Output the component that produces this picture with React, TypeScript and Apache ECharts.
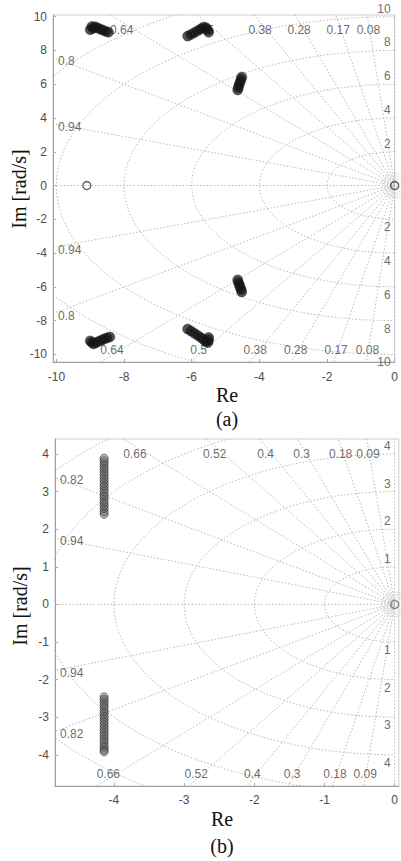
import React, { useEffect, useRef } from "react";
import * as echarts from "echarts";

// ---------- chart (a) ----------
const xTicksA = [-10, -8, -6, -4, -2, 0];
const yTicksA = [-10, -8, -6, -4, -2, 0, 2, 4, 6, 8, 10];
const zetaA = [0.08, 0.17, 0.28, 0.38, 0.5, 0.64, 0.8, 0.94];
const wnA = [2, 4, 6, 8, 10, 12];
const wnLabelsA = [2, 4, 6, 8, 10];
const limitsA = { xmin: -10.1, xmax: 0, ymin: -10.45, ymax: 10.1 };

const polesA_upperLeft: [number, number][] = [
  [-9.0, 9.23], [-8.95, 9.42], [-8.92, 9.3], [-8.85, 9.4], [-8.78, 9.33],
  [-8.7, 9.26], [-8.62, 9.2], [-8.54, 9.13], [-8.46, 9.08],
];
const polesA_upperMid: [number, number][] = [
  [-6.12, 8.85], [-6.02, 8.95], [-5.92, 9.06], [-5.82, 9.17], [-5.73, 9.28],
  [-5.65, 9.38], [-5.58, 9.35], [-5.53, 9.22], [-5.5, 9.08],
];
const polesA_upperRight: [number, number][] = [
  [-4.52, 6.43], [-4.54, 6.28], [-4.57, 6.12], [-4.6, 5.96], [-4.62, 5.81], [-4.64, 5.66],
];
const polesA_lowerRight: [number, number][] = [
  [-4.64, -5.59], [-4.62, -5.74], [-4.59, -5.88], [-4.57, -6.02], [-4.54, -6.16], [-4.52, -6.3],
];
const polesA_lowerMid: [number, number][] = [
  [-6.12, -8.5], [-6.02, -8.62], [-5.92, -8.75], [-5.82, -8.88], [-5.73, -9.0],
  [-5.65, -9.12], [-5.58, -9.25], [-5.52, -9.3], [-5.5, -9.15], [-5.5, -9.0],
];
const polesA_lowerLeft: [number, number][] = [
  [-9.0, -9.2], [-8.95, -9.3], [-8.9, -9.38], [-8.82, -9.3], [-8.74, -9.22],
  [-8.66, -9.15], [-8.58, -9.08], [-8.5, -9.02], [-8.42, -8.97],
];
const zerosA: [number, number][] = [[-9.1, 0], [0, 0]];

// ---------- chart (b) ----------
const xTicksB = [-4, -3, -2, -1, 0];
const yTicksB = [-4, -3, -2, -1, 0, 1, 2, 3, 4];
const zetaB = [0.09, 0.18, 0.3, 0.4, 0.52, 0.66, 0.82, 0.94];
const wnB = [1, 2, 3, 4, 5, 6];
const wnLabelsB = [1, 2, 3, 4];
const limitsB = { xmin: -4.84, xmax: 0.06, ymin: -4.83, ymax: 4.4 };

const polesB_re = -4.14;
const polesB_upperIm = [
  2.4, 2.47, 2.55, 2.62, 2.7, 2.77, 2.85, 2.92, 3.0, 3.07, 3.15,
  3.22, 3.3, 3.37, 3.45, 3.52, 3.6, 3.67, 3.75, 3.82, 3.89,
];
const polesB_lowerIm = [
  -2.46, -2.53, -2.6, -2.68, -2.75, -2.83, -2.9, -2.98, -3.05, -3.13, -3.2,
  -3.28, -3.35, -3.43, -3.5, -3.58, -3.65, -3.73, -3.8, -3.87, -3.92,
];
const zerosB: [number, number][] = [[0, 0]];

const GRID_COLOR = "#b8b8b8";
const LABEL_COLOR = "#444444";
const SANS = "Liberation Sans";
const SERIF = "Liberation Serif";
const GRID_H = 347;

type Lim = { xmin: number; xmax: number; ymin: number; ymax: number };

function lbl(extra: any) {
  return {
    show: true,
    position: "inside",
    verticalAlign: "middle",
    color: LABEL_COLOR,
    textBorderWidth: 0,
    textBorderColor: "transparent",
    fontSize: 12,
    fontFamily: SANS,
    ...extra,
  };
}

function gridSeries(idx: number, zetas: number[], wns: number[], wnLabels: number[], lim: Lim) {
  const series: any[] = [];
  const R = 40;
  const lineBase = {
    type: "line",
    xAxisIndex: idx,
    yAxisIndex: idx,
    showSymbol: false,
    symbol: "none",
    silent: true,
    z: 1,
    lineStyle: { color: GRID_COLOR, width: 1, type: [1.5, 2] },
  };
  wns.forEach((wn) => {
    const pts: number[][] = [];
    for (let i = 0; i <= 120; i++) {
      const t = Math.PI / 2 + (Math.PI * i) / 120;
      pts.push([wn * Math.cos(t), wn * Math.sin(t)]);
    }
    series.push({ ...lineBase, data: pts });
  });
  zetas.forEach((z) => {
    const s = Math.sqrt(1 - z * z);
    series.push({ ...lineBase, data: [[-R * z, R * s], [0, 0], [-R * z, -R * s]] });
  });
  series.push({ ...lineBase, data: [[-R, 0], [0, 0]] });
  series.push({ ...lineBase, data: [[0, R], [0, -R]] });

  // label anchors sit on each ray, 7 px inside the plot frame
  const inset = (7 * (lim.ymax - lim.ymin)) / GRID_H;
  const yTop = lim.ymax - inset;
  const yBot = lim.ymin + inset;
  const zl: any[] = [];
  zetas.forEach((z) => {
    const s = Math.sqrt(1 - z * z);
    const yLeft = (-lim.xmin * s) / z;
    const txt = String(z);
    if (yLeft <= lim.ymax) {
      zl.push({ value: [lim.xmin, yLeft], name: txt, label: lbl({ align: "left", offset: [5, 3] }) });
    } else {
      zl.push({ value: [(-yTop * z) / s, yTop], name: txt, label: lbl({ align: "center", offset: [0, 8] }) });
    }
    if (-yLeft >= lim.ymin) {
      zl.push({ value: [lim.xmin, -yLeft], name: txt, label: lbl({ align: "left", offset: [5, 3] }) });
    } else {
      zl.push({ value: [(yBot * z) / s, yBot], name: txt, label: lbl({ align: "center", offset: [0, -5] }) });
    }
  });
  wnLabels.forEach((wn) => {
    zl.push({ value: [0, wn], name: String(wn), label: lbl({ align: "right", offset: [-4, -8] }) });
    zl.push({ value: [0, -wn], name: String(wn), label: lbl({ align: "right", offset: [-4, 8] }) });
  });
  series.push({
    type: "scatter",
    xAxisIndex: idx,
    yAxisIndex: idx,
    symbolSize: 0,
    silent: true,
    clip: false,
    z: 3,
    data: zl,
    itemStyle: { color: "transparent" },
    label: lbl({ formatter: (p: any) => p.name }),
  });
  series.push({
    type: "scatter",
    xAxisIndex: idx,
    yAxisIndex: idx,
    silent: true,
    clip: false,
    z: 2,
    symbol: "circle",
    data: [5, 10, 15, 20, 25].map((sz) => ({ value: [0, 0], symbolSize: sz })),
    itemStyle: { color: "transparent", borderColor: "#cfcfcf", borderWidth: 0.8 },
  });
  return series;
}

function axes(idx: number, lim: Lim, xt: number[], yt: number[], xMargin: number) {
  const lab = { color: "#4d4d4d", fontSize: 12, fontFamily: SANS };
  return {
    x: {
      gridIndex: idx,
      type: "value",
      min: lim.xmin,
      max: lim.xmax,
      axisLine: { show: true, onZero: false, lineStyle: { color: "#9e9e9e", width: 1 } },
      axisTick: { show: true, inside: true, length: 3, customValues: xt, lineStyle: { color: "#aaa" } },
      axisLabel: { ...lab, customValues: xt, margin: xMargin, formatter: (v: number) => String(v) },
      splitLine: { show: false },
    },
    y: {
      gridIndex: idx,
      type: "value",
      min: lim.ymin,
      max: lim.ymax,
      axisLine: { show: true, onZero: false, lineStyle: { color: "#9e9e9e", width: 1 } },
      axisTick: { show: true, inside: true, length: 3, customValues: yt, lineStyle: { color: "#aaa" } },
      axisLabel: { ...lab, customValues: yt, margin: 6, formatter: (v: number) => String(v) },
      splitLine: { show: false },
    },
  };
}

function poleSeries(idx: number, data: number[][], style: any, size: number) {
  return {
    type: "scatter",
    xAxisIndex: idx,
    yAxisIndex: idx,
    silent: true,
    clip: false,
    z: 5,
    symbol: "circle",
    symbolSize: size,
    data,
    itemStyle: style,
  };
}

export default function App() {
  const ref = useRef<HTMLDivElement>(null);
  useEffect(() => {
    if (!ref.current) return;
    const chart = echarts.init(ref.current, undefined, { renderer: "svg" });
    const aAx = axes(0, limitsA, xTicksA, yTicksA, 9);
    const bAx = axes(1, limitsB, xTicksB, yTicksB, 8);
    const darkPole = { color: "rgba(22,22,22,0.92)", borderColor: "rgba(20,20,20,0.9)", borderWidth: 0.5 };
    const grayPole = { color: "rgba(90,90,90,0.5)", borderColor: "rgba(40,40,40,0.8)", borderWidth: 1 };
    const zeroStyle = { color: "transparent", borderColor: "#333", borderWidth: 1.3 };
    const allA = [
      ...polesA_upperLeft, ...polesA_upperMid, ...polesA_upperRight,
      ...polesA_lowerRight, ...polesA_lowerMid, ...polesA_lowerLeft,
    ];
    const allB = [
      ...polesB_upperIm.map((y) => [polesB_re, y]),
      ...polesB_lowerIm.map((y) => [polesB_re, y]),
    ];
    chart.setOption({
      animation: false,
      backgroundColor: "#fff",
      grid: [
        { left: 53, top: 15, width: 345, height: GRID_H, show: true, borderColor: "#cfcfcf", borderWidth: 1 },
        { left: 55, top: 439, width: 344, height: GRID_H, show: true, borderColor: "#cfcfcf", borderWidth: 1 },
      ],
      xAxis: [aAx.x, bAx.x],
      yAxis: [aAx.y, bAx.y],
      series: [
        ...gridSeries(0, zetaA, wnA, wnLabelsA, limitsA),
        ...gridSeries(1, zetaB, wnB, wnLabelsB, limitsB),
        poleSeries(0, allA, darkPole, 10),
        poleSeries(0, zerosA, zeroStyle, 8),
        poleSeries(1, allB, grayPole, 8),
        poleSeries(1, zerosB, { ...zeroStyle, borderColor: "#666" }, 8),
      ],
      graphic: [
        { type: "text", x: 19, y: 189, rotation: Math.PI / 2, style: { text: "Im [rad/s]", font: `20px "${SERIF}"`, fill: "#111", align: "center", verticalAlign: "middle" } },
        { type: "text", x: 227, y: 395, style: { text: "Re", font: `20px "${SERIF}"`, fill: "#111", align: "center", verticalAlign: "middle" } },
        { type: "text", x: 227, y: 419, style: { text: "(a)", font: `20px "${SERIF}"`, fill: "#111", align: "center", verticalAlign: "middle" } },
        { type: "text", x: 20, y: 606, rotation: Math.PI / 2, style: { text: "Im [rad/s]", font: `20px "${SERIF}"`, fill: "#111", align: "center", verticalAlign: "middle" } },
        { type: "text", x: 222, y: 819, style: { text: "Re", font: `20px "${SERIF}"`, fill: "#111", align: "center", verticalAlign: "middle" } },
        { type: "text", x: 222, y: 846, style: { text: "(b)", font: `20px "${SERIF}"`, fill: "#111", align: "center", verticalAlign: "middle" } },
      ],
    });
    return () => chart.dispose();
  }, []);
  return (
    <div
      ref={ref}
      style={{ position: "fixed", left: 0, top: 0, width: 401, height: 861, background: "#fff" }}
    />
  );
}
